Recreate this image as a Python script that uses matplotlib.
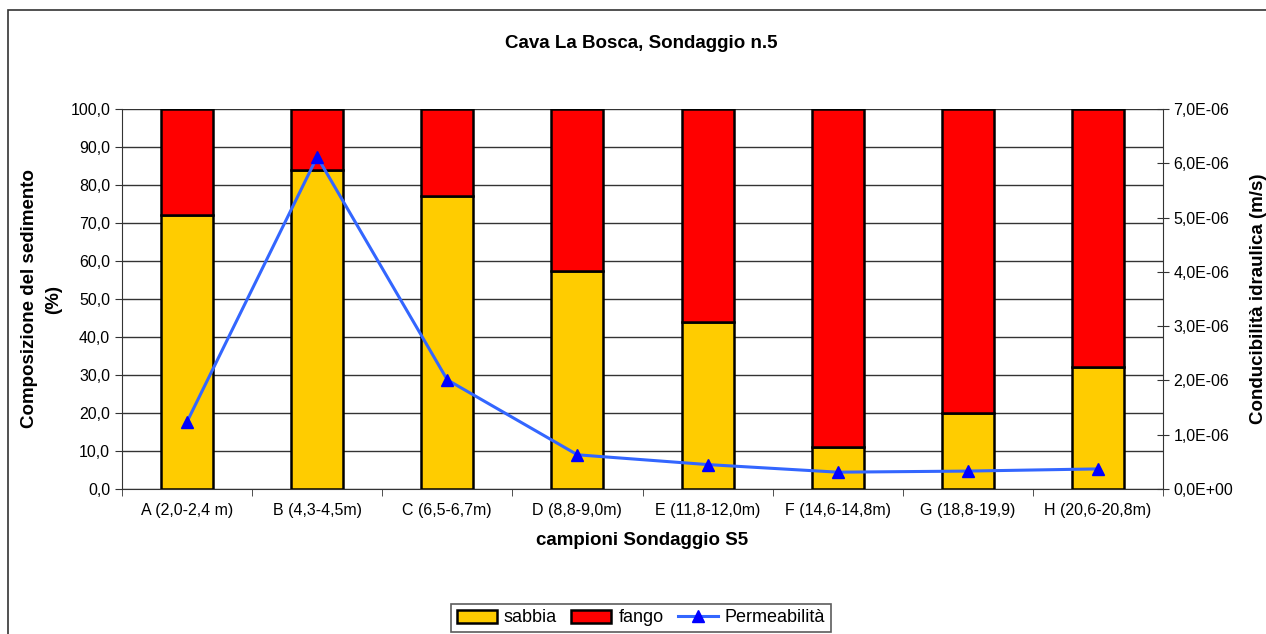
import numpy as np
import matplotlib.pyplot as plt
from matplotlib.patches import Rectangle

plt.rcParams['font.family'] = ['Liberation Sans', 'DejaVu Sans']

campioni = ["A (2,0-2,4 m)", "B (4,3-4,5m)", "C (6,5-6,7m)", "D (8,8-9,0m)",
            "E (11,8-12,0m)", "F (14,6-14,8m)", "G (18,8-19,9)", "H (20,6-20,8m)"]
sabbia = [72.1, 84.0, 77.2, 57.5, 44.0, 11.1, 20.1, 32.2]
fango = [100 - s for s in sabbia]
permeabilita = [1.24e-6, 6.12e-6, 2.01e-6, 0.63e-6, 0.45e-6, 0.31e-6, 0.33e-6, 0.37e-6]

W, H = 1266, 634
fig = plt.figure(figsize=(W / 100, H / 100), dpi=100)

# outer chart border
fig.patches.append(Rectangle((8 / W, -0.1), 1.2, (H - 10) / H + 0.1, transform=fig.transFigure,
                             fill=False, edgecolor='#333333', linewidth=1.2))

left, right, top, bottom = 122, 1163, 109, 489
ax = fig.add_axes([left / W, 1 - bottom / H, (right - left) / W, (bottom - top) / H])
x = np.arange(len(campioni))

ax.bar(x, sabbia, width=0.4, color='#FFCC00', edgecolor='black', linewidth=1.8,
       label='sabbia', zorder=3)
ax.bar(x, fango, width=0.4, bottom=sabbia, color='#FF0000', edgecolor='black',
       linewidth=1.8, label='fango', zorder=3)

ax.set_xlim(-0.5, len(campioni) - 0.5)
ax.set_ylim(0, 100)
ax.set_yticks(np.arange(0, 101, 10))
ax.set_yticklabels([f"{v:.1f}".replace('.', ',') for v in np.arange(0, 101, 10)], fontsize=11.5)
ax.yaxis.grid(True, color='#333333', linewidth=1.0, zorder=0)
ax.set_axisbelow(True)

ax.set_xticks(x)
ax.set_xticklabels(campioni, fontsize=11.5)
ax.tick_params(axis='x', length=0, pad=10)
ax.set_xticks(np.arange(-0.5, len(campioni), 1), minor=True)
ax.tick_params(axis='x', which='minor', length=5, direction='out', color='#333333')
ax.tick_params(axis='y', length=5, direction='out', color='#333333')

ax.spines['top'].set_visible(False)
ax.spines['left'].set_color('#333333')
ax.spines['bottom'].set_color('#333333')
ax.spines['right'].set_visible(False)

ax.set_xlabel("campioni Sondaggio S5", fontsize=13.5, fontweight='bold', labelpad=10)
ax.set_ylabel("Composizione del sedimento\n(%)", fontsize=13.5, fontweight='bold',
              labelpad=6, linespacing=1.5)

ax2 = ax.twinx()
ax2.plot(x, permeabilita, color='#3366FF', linewidth=2.2, marker='^', markersize=8,
         markerfacecolor='#0000FF', markeredgecolor='#0000FF', label='Permeabilità', zorder=5)
ax2.set_ylim(0, 7e-6)
rt = np.arange(0, 8) * 1e-6
ax2.set_yticks(rt)
ax2.set_yticklabels(["0,0E+00"] + [f"{i},0E-06" for i in range(1, 8)], fontsize=11.5)
ax2.tick_params(axis='y', length=8, direction='inout', color='#333333')
for s in ['top', 'left', 'bottom']:
    ax2.spines[s].set_visible(False)
ax2.spines['right'].set_color('#333333')
ax2.set_ylabel("Conducibilità idraulica (m/s)", fontsize=13.5, fontweight='bold', labelpad=12)

fig.text(641 / W, 1 - 43 / H, "Cava La Bosca, Sondaggio n.5", ha='center', va='center',
         fontsize=13.5, fontweight='bold')

h1, l1 = ax.get_legend_handles_labels()
h2, l2 = ax2.get_legend_handles_labels()
leg = fig.legend(h1 + h2, l1 + l2, loc='center', bbox_to_anchor=(641 / W, 1 - 618 / H),
                 ncol=3, fontsize=13, frameon=True, fancybox=False, edgecolor='#333333',
                 handlelength=2.2, handletextpad=0.4, columnspacing=0.8, borderpad=0.3)
leg.get_frame().set_linewidth(1.2)

fig.savefig("out.png", dpi=100)
